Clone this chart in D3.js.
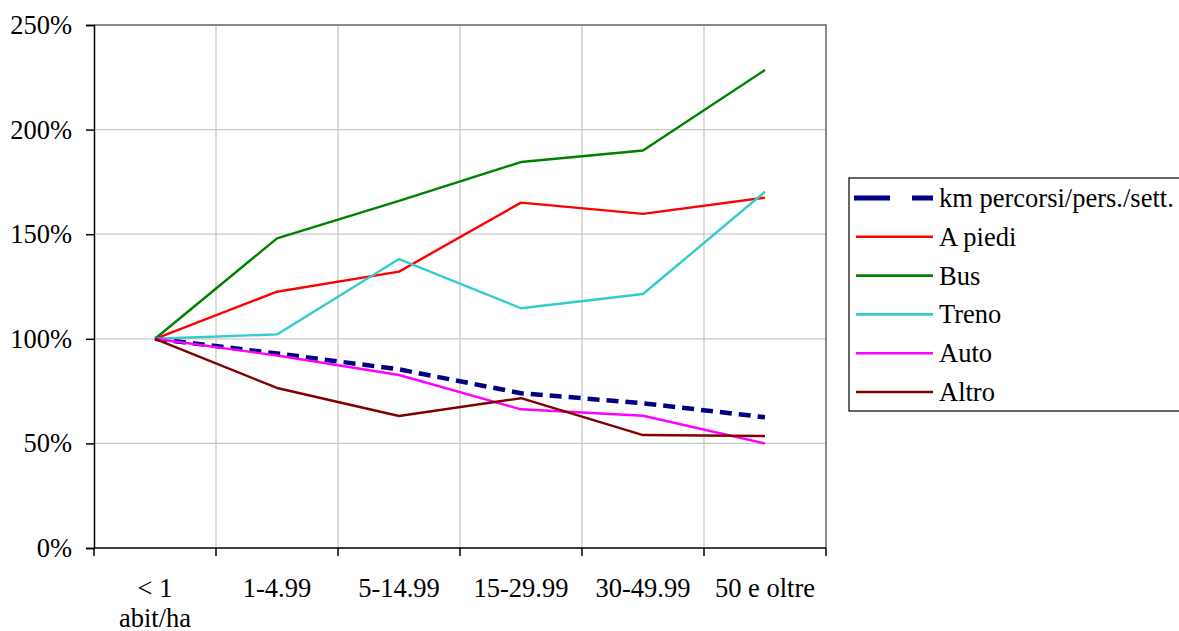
<!DOCTYPE html>
<html>
<head>
<meta charset="utf-8">
<script src="https://cdn.jsdelivr.net/npm/d3@7"></script>
<style>
  html, body { margin: 0; padding: 0; background: #fff; }
  svg { display: block; }
</style>
</head>
<body>
<svg id="chart" width="1179" height="631"></svg>
<script>
// Density classes (abitanti per ettaro)
const categories = ["< 1|abit/ha", "1-4.99", "5-14.99", "15-29.99", "30-49.99", "50 e oltre"];
const yTicks = [0, 0.5, 1, 1.5, 2, 2.5];

// Index values, percent of the lowest density class
const kmPercorsi = [100, 93.0, 85.4, 74.0, 69.2, 62.5];
const aPiedi     = [100, 122.5, 132.1, 165.1, 159.7, 167.5];
const bus        = [100, 148.0, 165.9, 184.5, 190.0, 228.5];
const treno      = [100, 102.1, 138.1, 114.6, 121.4, 170.3];
const auto       = [100, 92.0, 82.7, 66.3, 63.2, 50.0];
const altro      = [100, 76.5, 63.1, 71.6, 54.0, 53.5];

const series = [
  { name: "km percorsi/pers./sett.", values: kmPercorsi, color: "#000080", width: 4.5, dash: "12,7" },
  { name: "A piedi", values: aPiedi, color: "#ff0000", width: 2.4 },
  { name: "Bus",     values: bus,    color: "#008000", width: 2.4 },
  { name: "Treno",   values: treno,  color: "#33cccc", width: 2.4 },
  { name: "Auto",    values: auto,   color: "#ff00ff", width: 2.4 },
  { name: "Altro",   values: altro,  color: "#800000", width: 2.4 }
];

const svg = d3.select("#chart");
const plotL = 94, plotR = 826, plotT = 25, plotB = 548;
const fontSize = 26.5;
const textFont = "'Liberation Serif'";

const x = d3.scaleBand().domain(categories).range([plotL, plotR]).padding(0);
const y = d3.scaleLinear().domain([0, 2.5]).range([plotB, plotT]);
const cx = c => x(c) + x.bandwidth() / 2;

// Gridlines
const grid = svg.append("g");
grid.selectAll("line.h").data(yTicks.filter(t => t > 0 && t < 2.5)).join("line")
  .attr("class", "h")
  .attr("x1", plotL).attr("x2", plotR)
  .attr("y1", d => y(d)).attr("y2", d => y(d))
  .attr("stroke", "#c8c8c8").attr("stroke-width", 1.3);
grid.selectAll("line.v").data(categories.slice(1)).join("line")
  .attr("class", "v")
  .attr("x1", d => x(d)).attr("x2", d => x(d))
  .attr("y1", plotT).attr("y2", plotB)
  .attr("stroke", "#c8c8c8").attr("stroke-width", 1.3);

// Plot area frame (top and right)
svg.append("path")
  .attr("d", `M${plotL},${plotT}H${plotR}V${plotB}`)
  .attr("fill", "none").attr("stroke", "#666").attr("stroke-width", 1.5);

// Y axis
const yAxis = svg.append("g")
  .attr("transform", `translate(${plotL},0)`)
  .call(d3.axisLeft(y).tickValues(yTicks).tickFormat(d3.format(".0%")).tickSize(8).tickPadding(14));
yAxis.attr("font-family", null).attr("font-size", null);
yAxis.select(".domain").attr("stroke", "#000").attr("stroke-width", 1.5);
yAxis.selectAll(".tick line").attr("stroke", "#000").attr("stroke-width", 1.5);
yAxis.selectAll(".tick text")
  .style("font-family", textFont)
  .style("font-size", fontSize + "px").attr("fill", "#000");

// X axis: ticks at the class boundaries
const xAxis = svg.append("g")
  .attr("transform", `translate(0,${plotB})`);
xAxis.append("line").attr("x1", plotL).attr("x2", plotR).attr("y1", 0).attr("y2", 0)
  .attr("stroke", "#000").attr("stroke-width", 1.5);
xAxis.selectAll("line.tk").data(categories.concat([null])).join("line")
  .attr("class", "tk")
  .attr("x1", (d, i) => i < categories.length ? x(d) : plotR)
  .attr("x2", (d, i) => i < categories.length ? x(d) : plotR)
  .attr("y1", 0).attr("y2", 8)
  .attr("stroke", "#000").attr("stroke-width", 1.5);
const xl = xAxis.selectAll("text.cat").data(categories).join("text")
  .attr("class", "cat")
  .attr("text-anchor", "middle")
  .style("font-family", textFont)
  .style("font-size", fontSize + "px")
  .attr("fill", "#000");
xl.each(function(d) {
  const lines = d.split("|");
  d3.select(this).selectAll("tspan").data(lines).join("tspan")
    .attr("x", cx(d)).attr("y", (l, i) => 49 + i * 30)
    .text(l => l);
});

// Lines
const line = d3.line()
  .x((v, i) => cx(categories[i]))
  .y(v => y(v / 100));
svg.append("g").selectAll("path").data(series).join("path")
  .attr("d", s => line(s.values))
  .attr("fill", "none")
  .attr("stroke", s => s.color)
  .attr("stroke-width", s => s.width)
  .attr("stroke-dasharray", s => s.dash || null)
  .attr("stroke-linejoin", "round");

// Legend
const lg = svg.append("g").attr("transform", "translate(849,178)");
lg.append("rect").attr("x", 0).attr("y", 0).attr("width", 345).attr("height", 233)
  .attr("fill", "#fff").attr("stroke", "#000").attr("stroke-width", 1.2);
const row = lg.selectAll("g.row").data(series).join("g")
  .attr("class", "row")
  .attr("transform", (s, i) => `translate(0,${20 + i * 38.8})`);
row.append("line")
  .attr("x1", s => s.dash ? 5 : 7).attr("x2", 84).attr("y1", 0).attr("y2", 0)
  .attr("stroke", s => s.color)
  .attr("stroke-width", s => s.dash ? 5 : 2.6)
  .attr("stroke-dasharray", s => s.dash ? "36,22,30" : null);
row.append("text")
  .attr("x", 90).attr("y", 9)
  .style("font-family", textFont)
  .style("font-size", fontSize + "px").attr("fill", "#000")
  .text(s => s.name);
</script>
</body>
</html>
